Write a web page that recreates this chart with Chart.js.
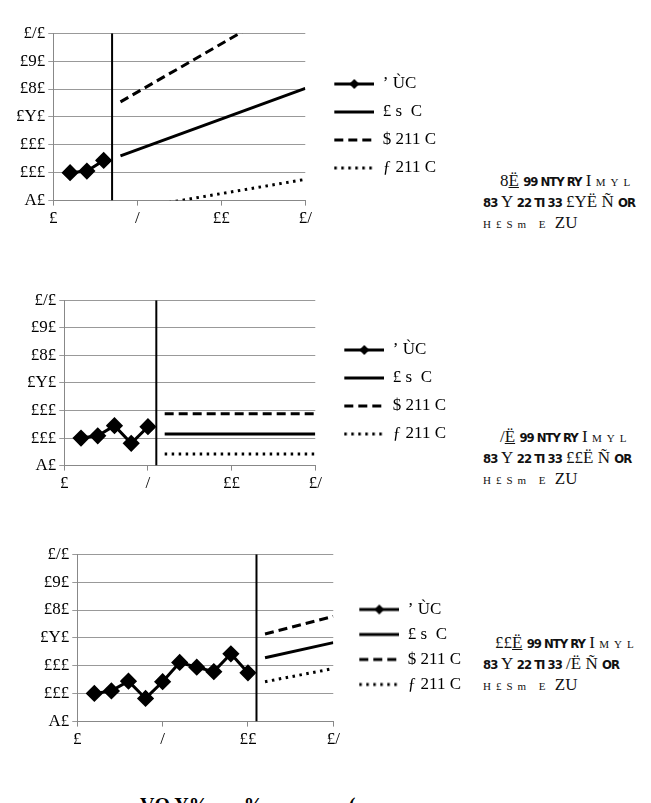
<!DOCTYPE html>
<html>
<head>
<meta charset="utf-8">
<script src="https://cdn.jsdelivr.net/npm/chart.js@4"></script>
<style>
  body { margin: 0; width: 651px; height: 803px; overflow: hidden; background: #fff; position: relative; font-family: "Liberation Serif", serif; }
  .box { position: absolute; }
  .note { position: absolute; font-family: "Liberation Serif", serif; color: #111; white-space: nowrap; font-size: 17px; }
  .note div { position: relative; height: 21px; line-height: 21px; }
  .note b { font-family: "DejaVu Sans Condensed", sans-serif; font-weight: bold; font-size: 13px; letter-spacing: -1px; }
  .note small { font-size: 11px; letter-spacing: 5px; }
  .foot { position: absolute; left: 140px; top: 794px; font-size: 20px; font-weight: bold; white-space: nowrap; }
</style>
</head>
<body>
<div class="box" style="left:13px;top:20px;width:433px;height:212px"><canvas id="c1"></canvas></div>
<div class="box" style="left:24px;top:287px;width:432px;height:210px"><canvas id="c2"></canvas></div>
<div class="box" style="left:37px;top:541px;width:434px;height:212px"><canvas id="c3"></canvas></div>

<div class="note" style="left:483px;top:170px"><div style="left:17px">8<u>Ë</u> <b>99 NTY RY</b> I <small>MYL</small></div><div><b>83</b> Y <b>22 TI 33</b> £YË Ñ <b>OR</b></div><div><small>H£S</small><small>m E</small> ZU</div></div>
<div class="note" style="left:483px;top:426px"><div style="left:17px">/<u>Ë</u> <b>99 NTY RY</b> I <small>MYL</small></div><div><b>83</b> Y <b>22 TI 33</b> ££Ë Ñ <b>OR</b></div><div><small>H£S</small><small>m E</small> ZU</div></div>
<div class="note" style="left:483px;top:632px"><div style="left:12px">££<u>Ë</u> <b>99 NTY RY</b> I <small>MYL</small></div><div><b>83</b> Y <b>22 TI 33</b> /Ë Ñ <b>OR</b></div><div><small>H£S</small><small>m E</small> ZU</div></div>
<div class="foot">VQ Y%&nbsp;&nbsp;&nbsp;&nbsp;&nbsp;&nbsp;&nbsp;%&nbsp;&nbsp;&nbsp;&nbsp;&nbsp;&nbsp;&nbsp;&nbsp;&nbsp;&nbsp;&nbsp;&nbsp;&nbsp;&nbsp;&nbsp;&nbsp;&nbsp;(</div>

<script>
// axis labels as they appear in the picture
const xTickValues = [0, 5, 10, 15];
const xTickLabels = ['£', '/', '££', '£/'];
const yTickValues = [90, 100, 110, 120, 130, 140, 150];
const yTickLabels = ['A£', '£££', '£££', '£Y£', '£8£', '£9£', '£/£'];
const seriesNames = ['ʼ ÙC', '£ s  C', '$ 211 C', 'ƒ 211 C'];

// chart 1
const hist1 = [100.0, 100.6, 104.4];
const split1 = 3.5;
const fx1 = [4, 15];
const mid1 = [106.0, 130.2];
const high1 = [125.4, 163.5];
const low1 = [86.4, 97.6];

// chart 2
const hist2 = [100.0, 100.8, 104.5, 98.1, 104.1];
const split2 = 5.5;
const fx2 = [6, 15];
const mid2 = [101.5, 101.5];
const high2 = [108.8, 108.8];
const low2 = [94.2, 94.2];

// chart 3
const hist3 = [100.1, 101.0, 104.5, 98.3, 104.3, 111.2, 109.5, 107.9, 114.3, 107.5];
const split3 = 10.5;
const fx3 = [11, 15];
const mid3 = [112.9, 118.3];
const high3 = [121.4, 127.7];
const low3 = [104.3, 109.0];

const dashes = [[], [], [9, 5], [2.5, 4.5]];

// legend icons, with empty room on the left as gap from the plot
function legendImg(dash, marker) {
    const c = document.createElement('canvas');
    c.width = 58; c.height = 12;
    const g = c.getContext('2d');
    g.strokeStyle = '#000';
    g.lineWidth = 3;
    g.setLineDash(dash);
    g.beginPath(); g.moveTo(18, 6); g.lineTo(58, 6); g.stroke();
    if (marker) {
        g.fillStyle = '#000';
        g.beginPath(); g.moveTo(38, 1); g.lineTo(43, 6); g.lineTo(38, 11); g.lineTo(33, 6); g.closePath(); g.fill();
    }
    return c;
}
const legendIcons = dashes.map((d, i) => legendImg(d, i === 0));

function seg(xs, ys) {
    return xs.map((x, i) => ({x: x, y: ys[i]}));
}

function makeChart(id, hist, split, fx, mid, high, low, rowGap) {
    new Chart(document.getElementById(id), {
        type: 'line',
        data: {
            datasets: [
                {
                    label: seriesNames[0],
                    data: hist.map((v, i) => ({x: i + 1, y: v})),
                    borderColor: '#000', backgroundColor: '#000',
                    borderWidth: 3, pointStyle: 'rectRot', pointRadius: 6.5,
                    pointBackgroundColor: '#000', pointBorderColor: '#000'
                },
                {label: seriesNames[1], data: seg(fx, mid), borderColor: '#000', borderWidth: 3, pointRadius: 0},
                {label: seriesNames[2], data: seg(fx, high), borderColor: '#000', borderWidth: 3, borderDash: dashes[2], pointRadius: 0},
                {label: seriesNames[3], data: seg(fx, low), borderColor: '#000', borderWidth: 3, borderDash: dashes[3], pointRadius: 0},
                {label: 'split', data: seg([split, split], [90, 150]), borderColor: '#000', borderWidth: 2, pointRadius: 0}
            ]
        },
        options: {
            responsive: true,
            maintainAspectRatio: false,
            animation: false,
            scales: {
                x: {
                    type: 'linear', min: 0, max: 15,
                    afterBuildTicks: s => { s.ticks = xTickValues.map(v => ({value: v})); },
                    ticks: {
                        autoSkip: false, maxRotation: 0, color: '#000',
                        font: {family: 'Liberation Serif', size: 17},
                        callback: v => xTickLabels[xTickValues.indexOf(v)]
                    },
                    grid: {drawOnChartArea: false, drawTicks: true, tickLength: 5, color: '#888'},
                    border: {color: '#888'}
                },
                y: {
                    min: 90, max: 150,
                    afterBuildTicks: s => { s.ticks = yTickValues.map(v => ({value: v})); },
                    ticks: {
                        color: '#000',
                        font: {family: 'Liberation Serif', size: 17},
                        callback: v => yTickLabels[yTickValues.indexOf(v)]
                    },
                    grid: {color: '#999', tickLength: 5},
                    border: {color: '#888'}
                }
            },
            plugins: {
                legend: {
                    position: 'right',
                    maxWidth: 220,
                    labels: {
                        usePointStyle: true,
                        pointStyleWidth: 58,
                        padding: rowGap,
                        color: '#000',
                        font: {family: 'Liberation Serif', size: 17},
                        generateLabels: chart => seriesNames.map((n, i) => ({
                            text: n, datasetIndex: i, pointStyle: legendIcons[i],
                            fillStyle: '#000', strokeStyle: '#000', lineWidth: 0
                        }))
                    }
                },
                tooltip: {enabled: false}
            }
        }
    });
}

makeChart('c1', hist1, split1, fx1, mid1, high1, low1, 11);
makeChart('c2', hist2, split2, fx2, mid2, high2, low2, 11);
makeChart('c3', hist3, split3, fx3, mid3, high3, low3, 8);
</script>
</body>
</html>
